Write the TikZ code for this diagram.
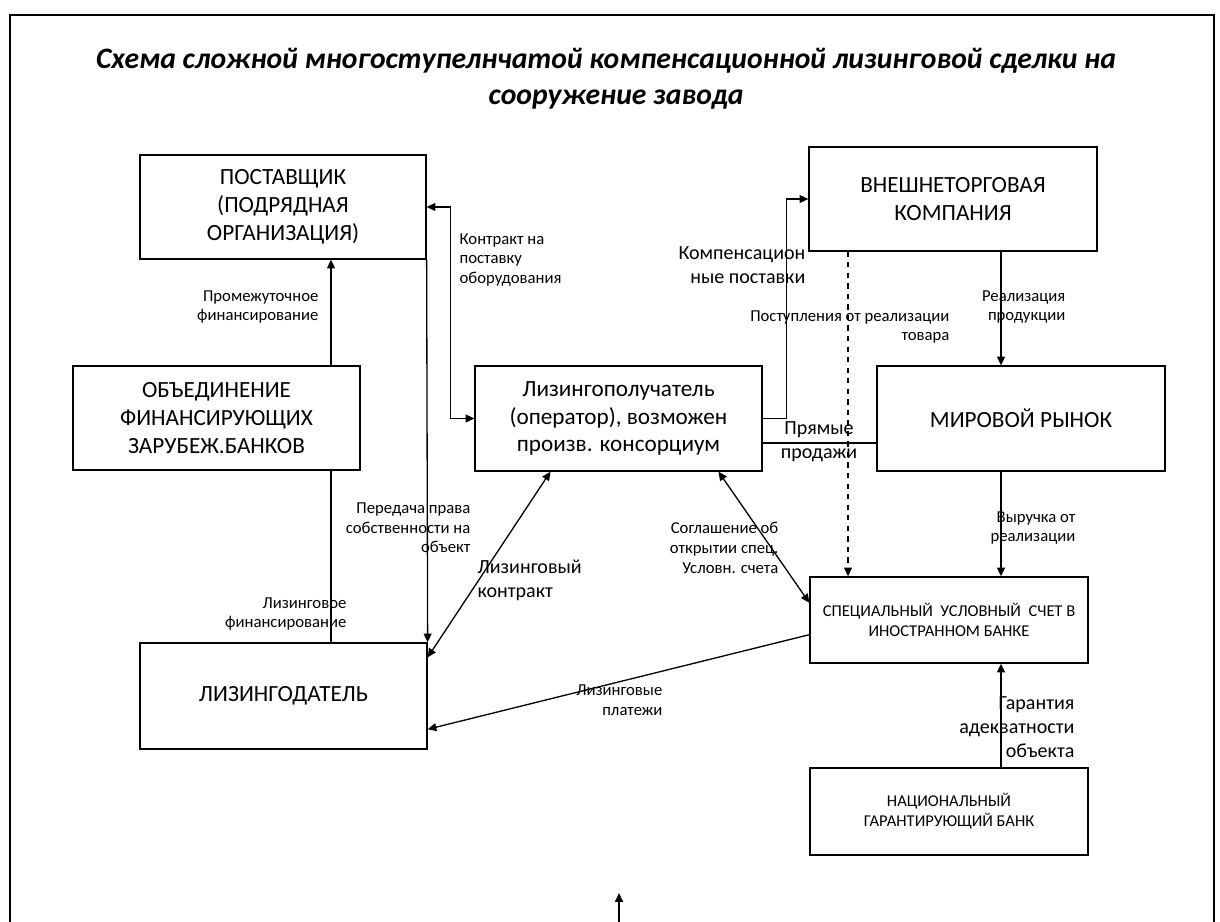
\documentclass[tikz,border=0pt]{standalone}
\usepackage{fontspec}
\setmainfont{Carlito}
\usetikzlibrary{arrows.meta}

\begin{document}
\begin{tikzpicture}[x=0.02cm,y=-0.02cm,line width=0.75pt,
  >={Triangle[length=5pt,width=4.5pt]},
  box/.style={draw,align=center,inner sep=0pt,font=\fontsize{13.2}{15.8}\selectfont},
  smallbox/.style={draw,align=center,inner sep=0pt,font=\fontsize{9.4}{11.4}\selectfont},
  lbl/.style={align=right,anchor=east,inner sep=0pt,font=\fontsize{9.5}{11.2}\selectfont},
  midlbl/.style={inner sep=0pt,font=\fontsize{11.4}{13.6}\selectfont},
  ttl/.style={anchor=base,font=\fontsize{16.9}{20}\selectfont\bfseries\itshape}]
  \useasboundingbox (0,0) rectangle (1220,922);
  \draw (10,922) -- (10,15) -- (1214,15) -- (1214,922);
  \node[ttl] (title1) at (606,69) {Схема сложной многоступелнчатой компенсационной лизинговой сделки на};
  \node[ttl] (title2) at (616,105) {сооружение завода};
  % boxes
  \node[box,minimum width=5.72cm,minimum height=2.08cm] (post) at (283,207) {ПОСТАВЩИК\\(ПОДРЯДНАЯ\\ОРГАНИЗАЦИЯ)};
  \node[box,minimum width=5.76cm,minimum height=2.08cm] (trade) at (953,199) {ВНЕШНЕТОРГОВАЯ\\КОМПАНИЯ};
  \node[box,minimum width=5.74cm,minimum height=2.08cm] (union) at (216.5,418) {ОБЪЕДИНЕНИЕ\\ФИНАНСИРУЮЩИХ\\ЗАРУБЕЖ.БАНКОВ};
  \node[box,minimum width=5.74cm,minimum height=2.1cm] (lessee) at (618.5,418.5) {Лизингополучатель\\(оператор), возможен\\произв. консорциум};
  \node[box,minimum width=5.76cm,minimum height=2.1cm] (market) at (1021,418.5) {МИРОВОЙ РЫНОК};
  \node[smallbox,minimum width=5.56cm,minimum height=1.72cm] (account) at (949,620) {СПЕЦИАЛЬНЫЙ\ \ УСЛОВНЫЙ\ \ СЧЕТ В\\ИНОСТРАННОМ БАНКЕ};
  \node[box,minimum width=5.74cm,minimum height=2.12cm] (lessor) at (283.5,696) {ЛИЗИНГОДАТЕЛЬ};
  \node[smallbox,minimum width=5.56cm,minimum height=1.74cm] (nat) at (949,811.5) {НАЦИОНАЛЬНЫЙ\\ГАРАНТИРУЮЩИЙ БАНК};
  % columns
  \coordinate (xu) at (331,0);
  \coordinate (xd) at (848,0);
  \coordinate (xr) at (1001,0);
  \coordinate (yp) at (0,443);
  \coordinate (bot) at (619,922);
  \coordinate (bottip) at (619,893);
  % connectors
  \draw[->] (union.north -| xu) -- (post.south -| xu);
  \draw (union.south -| xu) -- (lessor.north -| xu);
  \draw[->] (post.south east) -- (lessor.north east);
  \draw[<->] (post.east) -- ++(24,0) |- (lessee.west);
  \draw[->] (lessee.east) -- ++(24,0) |- (trade.west);
  \draw[->,dashed] (trade.south -| xd) -- (account.north -| xd);
  \draw[->] (trade.south -| xr) -- (market.north -| xr);
  \draw (lessee.east |- yp) -- (market.west |- yp);
  \draw[<->] (lessor.15) -- (lessee.-142);
  \draw[<->] (lessee.-28) -- (account.173);
  \draw[->] (market.south -| xr) -- (account.north -| xr);
  \draw[->] (account.186) -- (lessor.-13);
  \draw[->] (nat.north -| xr) -- (account.south -| xr);
  \draw[->] (bot) -- (bottip);
  % labels
  \node[lbl] (l1) at (319,307) {Промежуточное\\финансирование};
  \node[lbl,align=left,anchor=west] (l2) at (459,260) {Контракт на\\поставку\\оборудования};
  \node[midlbl,align=right,anchor=east] (l3) at (806,265) {Компенсацион\\ные поставки};
  \node[lbl] (l4) at (950,327) {Поступления от реализации\\товара};
  \node[lbl] (l5) at (1066,307) {Реализация\\продукции};
  \node[midlbl,align=center] (l6) at (819,442) {Прямые\\продажи};
  \node[lbl] (l7) at (471,528) {Передача права\\собственности на\\объект};
  \node[midlbl,align=left,anchor=west] (l8) at (477,580) {Лизинговый\\контракт};
  \node[lbl] (l9) at (347,614) {Лизинговое\\финансирование};
  \node[lbl] (l10) at (779,548) {Соглашение об\\открытии спец.\\Условн. счета};
  \node[lbl] (l11) at (1076,528) {Выручка от\\реализации};
  \node[lbl] (l12) at (663,700) {Лизинговые\\платежи};
  \node[midlbl,align=right,anchor=east] (l13) at (1075,727) {Гарантия\\адекватности\\объекта};
\end{tikzpicture}
\end{document}
